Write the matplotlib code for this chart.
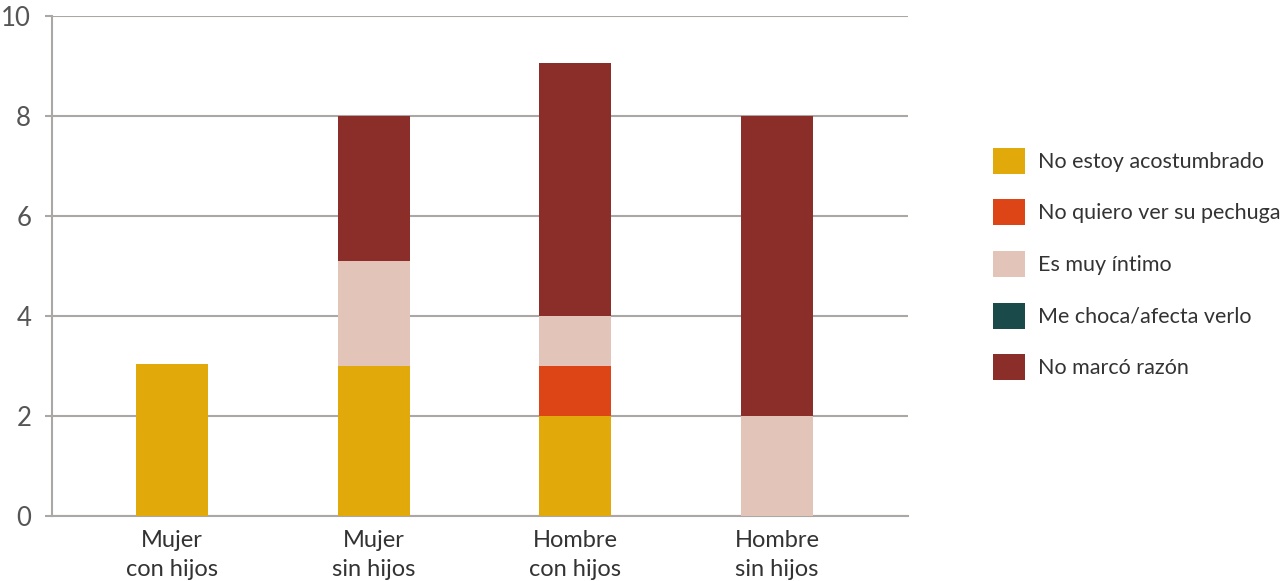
import numpy as np
import matplotlib.pyplot as plt
from matplotlib.patches import Patch

# data
categories = ['Mujer\ncon hijos', 'Mujer\nsin hijos', 'Hombre\ncon hijos', 'Hombre\nsin hijos']
series = ['No estoy acostumbrado', 'No quiero ver su pechuga', 'Es muy íntimo',
          'Me choca/afecta verlo', 'No marcó razón']
acostumbrado = [3.04, 3.0, 2.0, 0.0]
pechuga = [0.0, 0.0, 1.0, 0.0]
intimo = [0.0, 2.1, 1.0, 2.0]
choca = [0.0, 0.0, 0.0, 0.0]
no_marco = [0.0, 2.9, 5.06, 6.0]
colors = ['#e2a90b', '#de4516', '#e2c4b9', '#1b4a4a', '#8b2d28']

grid_c = '#aaa7a4'
text_c = '#333333'
plt.rcParams['font.family'] = ['Lato', 'DejaVu Sans']

fig = plt.figure(figsize=(12.85, 5.81), dpi=100)
ax = fig.add_axes([52/1285, 1 - 516/581, (908 - 52)/1285, 500/581])

x = np.arange(len(categories))
bottom = np.zeros(len(categories))
for vals, c in zip([acostumbrado, pechuga, intimo, choca, no_marco], colors):
    ax.bar(x, vals, width=0.357, bottom=bottom, color=c, zorder=3)
    bottom += np.array(vals)

ax.set_xlim(-0.595, 3.65)
ax.set_ylim(0, 10)
ax.set_yticks(range(0, 11, 2))
ax.set_xticks(x)
ax.set_xticklabels(categories, fontsize=17, color=text_c, linespacing=1.5)
ax.tick_params(axis='x', length=0, pad=10)
ax.tick_params(axis='y', length=5, width=1.5, color=grid_c, pad=10,
               labelsize=18.5, labelcolor='#555555')

ax.grid(axis='y', color=grid_c, linewidth=1.5, zorder=0)
for s in ['top', 'right']:
    ax.spines[s].set_visible(False)
for s in ['left', 'bottom']:
    ax.spines[s].set_color(grid_c)
    ax.spines[s].set_linewidth(1.5)

handles = [Patch(facecolor=c, edgecolor='none') for c in colors]
fig.legend(handles, series, loc='center left', bbox_to_anchor=(993/1285, 1 - 264/581),
           frameon=False, fontsize=15.5, labelcolor=text_c,
           handlelength=1.5, handleheight=1.5, handletextpad=0.6,
           labelspacing=1.18, borderpad=0, borderaxespad=0)

fig.savefig('out.png', dpi=100)
